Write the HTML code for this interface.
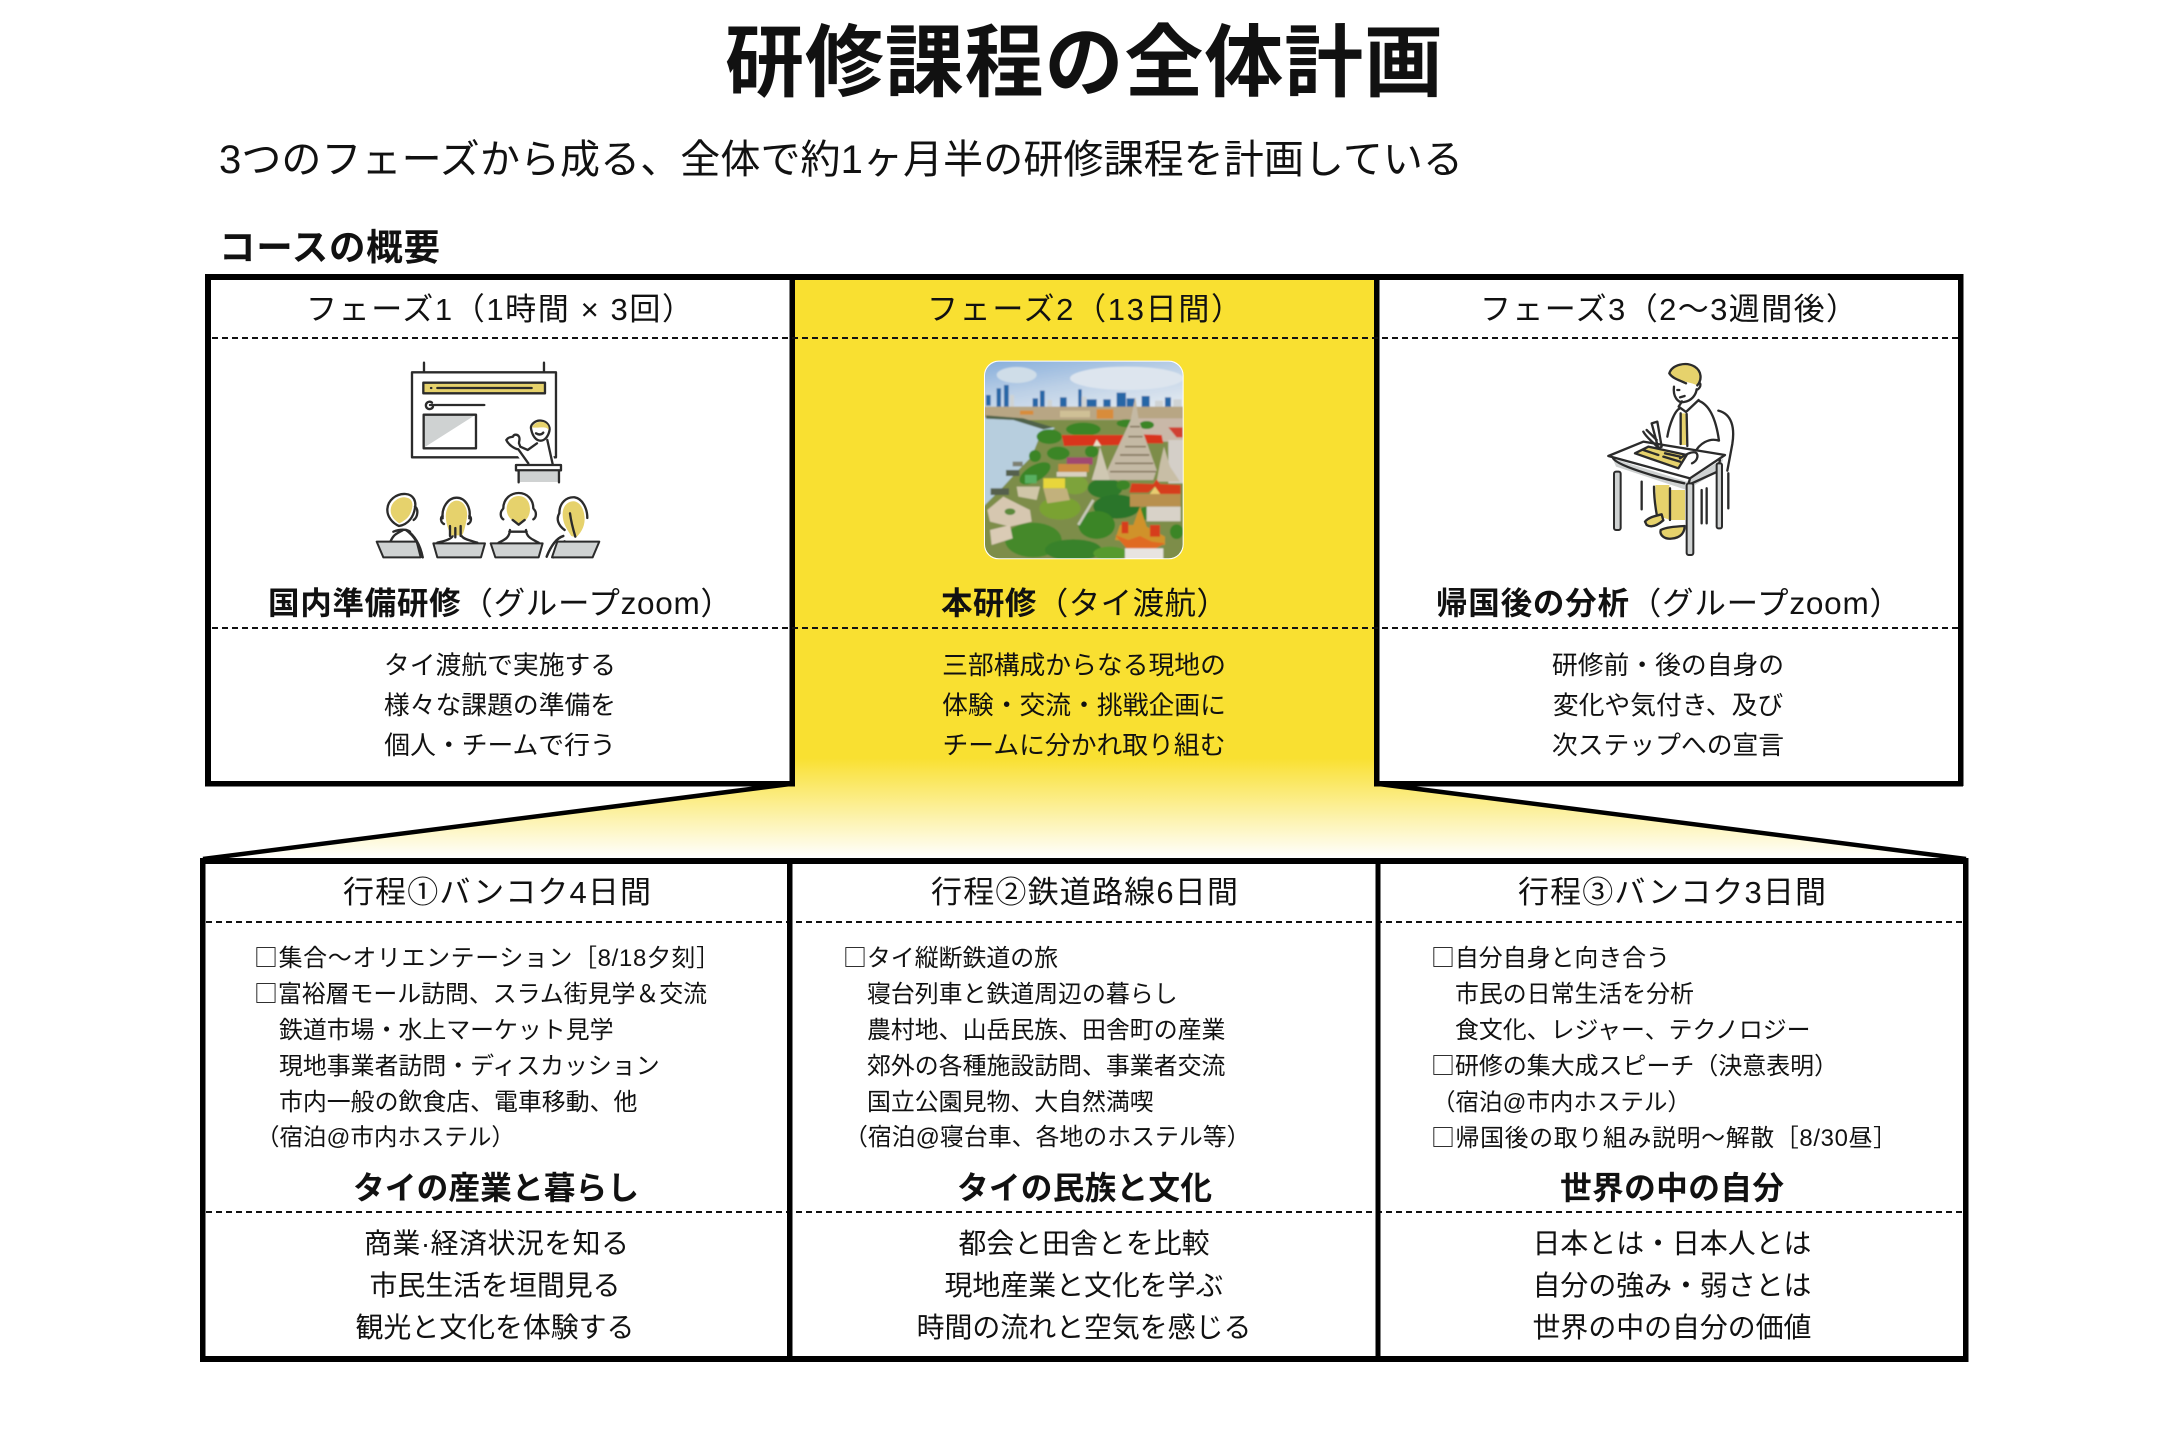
<!DOCTYPE html>
<html lang="ja"><head><meta charset="utf-8"><title>研修課程の全体計画</title>
<style>
html,body{margin:0;padding:0;background:#fff}
svg{display:block}
text{font-family:"Liberation Sans","Noto Sans CJK JP",sans-serif;fill:#111}
.q{font-family:"Noto Sans CJK JP",sans-serif}
.b{font-weight:700}
.h{font-size:31px}
.s{font-size:31.5px}
.d{font-size:25.8px;text-anchor:middle}
.l{font-size:23.9px}
.m{font-size:27.9px;text-anchor:middle}
.ill{fill:none;stroke:#2b2b2b;stroke-width:7;stroke-linecap:round;stroke-linejoin:round}
</style></head><body>
<svg xmlns="http://www.w3.org/2000/svg" width="2168" height="1446" viewBox="0 0 2168 1446">
<defs>
<linearGradient id="fade" gradientUnits="userSpaceOnUse" x1="0" y1="758" x2="0" y2="858">
<stop offset="0" stop-color="#F9E031"/><stop offset="1" stop-color="#FFFFFF"/></linearGradient>
<linearGradient id="sky" x1="0" y1="0" x2="0.6" y2="1"><stop offset="0" stop-color="#7fa9da"/><stop offset=".55" stop-color="#bcd0e6"/><stop offset="1" stop-color="#dfe7ef"/></linearGradient>
<clipPath id="pc"><rect x="75" y="65" width="593" height="590" rx="42"/></clipPath>
<filter id="bl" x="-5%" y="-5%" width="110%" height="110%"><feGaussianBlur stdDeviation="2.2"/></filter>
</defs>
<rect width="2168" height="1446" fill="#fff"/>

<!-- yellow column & funnel -->
<rect x="792" y="277" width="585" height="482" fill="#F9E031"/>
<polygon points="792,758 1377,758 1377,784 1965,860 203,860 792,784" fill="url(#fade)"/>

<!-- title -->
<text x="725" y="90" class="b" font-size="79" textLength="718">研修課程の全体計画</text>
<text x="219" y="173" font-size="40" textLength="1244">3つのフェーズから成る、全体で約1ヶ月半の研修課程を計画している</text>
<text x="219" y="260" class="b" font-size="36.5" textLength="221">コースの概要</text>

<!-- upper box -->
<g fill="#000">
<rect x="205" y="274" width="6" height="512"/>
<rect x="205" y="274" width="1758" height="6"/>
<rect x="1958" y="274" width="5.5" height="512"/>
<rect x="789.5" y="274" width="5.5" height="512"/>
<rect x="1374" y="274" width="5.5" height="512"/>
<rect x="205" y="781" width="590" height="5.5"/>
<rect x="1374" y="781" width="589" height="5.5"/>
</g>
<polygon points="795,780 1374,780 1374,790 795,790" fill="url(#fade)"/>
<g stroke="#111" stroke-width="2" stroke-dasharray="6 4" fill="none">
<path d="M212 338H1958"/><path d="M212 628H1958"/>
<path d="M206 922H1964"/><path d="M206 1212H1964"/>
</g>

<!-- funnel edges -->
<path d="M790 784L203 859" stroke="#000" stroke-width="4.5" fill="none"/>
<path d="M1379 784L1966 859" stroke="#000" stroke-width="4.5" fill="none"/>

<!-- lower box -->
<g fill="#000">
<rect x="200" y="858" width="1768" height="6"/>
<rect x="200" y="1356" width="1768" height="6"/>
<rect x="200" y="858" width="5.5" height="504"/>
<rect x="1963" y="858" width="5.5" height="504"/>
<rect x="787" y="858" width="5.5" height="504"/>
<rect x="1375.5" y="858" width="5" height="504"/>
</g>

<!-- phase headers -->
<text x="306" y="320" class="h" textLength="387">フェーズ1（1時間 × 3回）</text>
<text x="927" y="320" class="h" textLength="315">フェーズ2（13日間）</text>
<text x="1480" y="320" class="h" textLength="377">フェーズ3（2〜3週間後）</text>

<!-- section titles -->
<text x="268" y="614" class="s" textLength="464"><tspan class="b">国内準備研修</tspan>（グループzoom）</text>
<text x="941" y="614" class="s" textLength="287"><tspan class="b">本研修</tspan>（タイ渡航）</text>
<text x="1436" y="614" class="s" textLength="465"><tspan class="b">帰国後の分析</tspan>（グループzoom）</text>

<!-- descriptions -->
<text x="500" y="674" class="d">タイ渡航で実施する</text>
<text x="500" y="714" class="d">様々な課題の準備を</text>
<text x="500" y="754" class="d">個人・チームで行う</text>
<text x="1084" y="674" class="d">三部構成からなる現地の</text>
<text x="1084" y="714" class="d">体験・交流・挑戦企画に</text>
<text x="1084" y="754" class="d">チームに分かれ取り組む</text>
<text x="1668" y="674" class="d">研修前・後の自身の</text>
<text x="1668" y="714" class="d">変化や気付き、及び</text>
<text x="1668" y="754" class="d">次ステップへの宣言</text>

<!-- lower headers -->
<text x="343" y="903" font-size="31" textLength="308">行程①バンコク4日間</text>
<text x="931" y="903" font-size="31" textLength="307">行程②鉄道路線6日間</text>
<text x="1518" y="903" font-size="31" textLength="308">行程③バンコク3日間</text>

<!-- lists col 1 -->
<text x="254" y="966" class="l" textLength="466"><tspan class="q">□</tspan>集合〜オリエンテーション［8/18夕刻］</text>
<text x="254" y="1002" class="l" textLength="453"><tspan class="q">□</tspan>富裕層モール訪問、スラム街見学＆交流</text>
<text x="279" y="1038" class="l">鉄道市場・水上マーケット見学</text>
<text x="279" y="1074" class="l">現地事業者訪問・ディスカッション</text>
<text x="279" y="1110" class="l">市内一般の飲食店、電車移動、他</text>
<text x="256" y="1145" class="l" font-size="23.5" style="font-size:23.5px">（宿泊@市内ホステル）</text>

<!-- lists col 2 -->
<text x="843" y="966" class="l"><tspan class="q">□</tspan>タイ縦断鉄道の旅</text>
<text x="867" y="1002" class="l">寝台列車と鉄道周辺の暮らし</text>
<text x="867" y="1038" class="l">農村地、山岳民族、田舎町の産業</text>
<text x="867" y="1074" class="l">郊外の各種施設訪問、事業者交流</text>
<text x="867" y="1110" class="l">国立公園見物、大自然満喫</text>
<text x="844" y="1145" class="l">（宿泊@寝台車、各地のホステル等）</text>

<!-- lists col 3 -->
<text x="1431" y="966" class="l"><tspan class="q">□</tspan>自分自身と向き合う</text>
<text x="1455" y="1002" class="l">市民の日常生活を分析</text>
<text x="1455" y="1038" class="l">食文化、レジャー、テクノロジー</text>
<text x="1431" y="1074" class="l" textLength="407"><tspan class="q">□</tspan>研修の集大成スピーチ（決意表明）</text>
<text x="1432" y="1110" class="l" style="font-size:23.5px">（宿泊@市内ホステル）</text>
<text x="1431" y="1146" class="l" textLength="466"><tspan class="q">□</tspan>帰国後の取り組み説明〜解散［8/30昼］</text>

<!-- bold lines -->
<text x="353" y="1199" class="b" font-size="31.7" textLength="286">タイの産業と暮らし</text>
<text x="957" y="1199" class="b" font-size="31.7" textLength="255">タイの民族と文化</text>
<text x="1560" y="1199" class="b" font-size="31.7" textLength="224">世界の中の自分</text>

<!-- summaries -->
<text x="364" y="1253" font-size="27.9" textLength="265">商業·経済状況を知る</text>
<text x="495" y="1295" class="m">市民生活を垣間見る</text>
<text x="495" y="1337" class="m">観光と文化を体験する</text>
<text x="1084" y="1253" class="m">都会と田舎とを比較</text>
<text x="1084" y="1295" class="m">現地産業と文化を学ぶ</text>
<text x="1084" y="1337" class="m">時間の流れと空気を感じる</text>
<text x="1672" y="1253" class="m">日本とは・日本人とは</text>
<text x="1672" y="1295" class="m">自分の強み・弱さとは</text>
<text x="1672" y="1337" class="m">世界の中の自分の価値</text>

<!-- classroom illustration -->
<g transform="translate(350,350) scale(.3333)">
<g class="ill">
<path d="M222 38V67M582 38V67"/>
<rect x="186" y="67" width="432" height="255" fill="#fff"/>
<rect x="220" y="98" width="365" height="32" fill="#E6D26C"/>
<path d="M262 114H545M243 114h1"/>
<path d="M246 158a11 11 0 1 0 3 12"/>
<path d="M240 165H403"/>
</g>
<polygon points="222,195 376,195 222,293" fill="#CFD2D2"/>
<rect x="221" y="194" width="157" height="101" class="ill"/>
<path d="M520 340L490 300 530 300 560 280 596 270 618 345Z" fill="#fff"/>
<g class="ill">
<path d="M535 340L505 298c-12 -2 -30 -14 -36 -28 6 -10 14 -8 20 -10 2 -8 14 -8 18 0 4 6 0 12 0 20l4 10 22 10 28 -20M592 270L608 342"/>
<path d="M544 240c-6 -16 12 -30 30 -28 18 2 28 18 24 32 -4 16 -14 28 -26 28 -14 0 -24 -14 -28 -32z" fill="#fff"/>
</g>
<path d="M546 232c4 -10 18 -20 34 -16 12 4 18 14 16 24 -8 -14 -30 -4 -50 -8z" fill="#E6D26C"/>
<path d="M558 250q14 8 22 -2" class="ill" stroke-width="4"/>
<rect x="498" y="345" width="135" height="16" fill="#fff" class="ill"/>
<rect x="508" y="364" width="116" height="32" fill="#CFD2D2"/>
<path d="M506 362V397M627 362V397" class="ill"/>
<!-- bodies -->
<g class="ill">
<path d="M122 573c8 -16 12 -20 36 -32M130 545c20 -8 40 -8 50 0M170 540c20 14 40 40 48 82"/>
<path d="M262 578c20 -4 42 -10 46 -20M335 558c6 10 28 14 47 20"/>
<path d="M446 578c15 -8 32 -12 34 -38M528 540c2 24 20 28 38 38M478 545h52"/>
<path d="M590 620c12 -30 28 -55 50 -62M610 622c10 -26 20 -40 34 -48"/>
</g>
<!-- chairs -->
<g fill="#CFD2D2" stroke="#2b2b2b" stroke-width="6" stroke-linejoin="round">
<path d="M80 575H200L212 622H100Z"/>
<path d="M250 580H405L393 622H262Z"/>
<path d="M422 580H578L566 622H436Z"/>
<path d="M622 575H748L728 622H606Z"/>
</g>
<path d="M168 540c20 14 40 40 50 82M590 620c12 -30 28 -55 50 -62" class="ill"/>
<!-- heads -->
<g class="ill" stroke-width="6">
<path d="M112 480c0 -30 28 -50 55 -48 24 2 32 22 28 42 -2 12 -6 24 -14 34 -8 10 -20 18 -34 20 -20 -8 -35 -28 -35 -48z" fill="#fff"/>
<path d="M278 505c-4 -32 16 -62 42 -62 26 0 44 30 38 62" fill="#fff"/>
<path d="M460 475c0 -28 22 -46 46 -46 26 0 44 20 44 46" fill="#fff"/>
<path d="M628 490c0 -32 22 -50 46 -48 24 4 38 34 38 62" fill="#fff"/>
<path d="M195 470c10 6 10 30 -4 40M278 498c-8 4 -6 20 4 24M358 498c8 4 6 20 -4 24M458 478c-8 8 -8 24 2 30M552 478c8 8 8 24 -2 30M628 490c-10 16 -4 36 16 50"/>
</g>
<g fill="#E6D26C">
<path d="M122 482c0 -24 22 -42 44 -40 20 2 24 18 20 34 -4 20 -16 34 -38 44 -14 -8 -26 -22 -26 -38z"/>
<path d="M288 508c-4 -30 12 -56 32 -56 22 0 36 26 30 56 -4 20 -8 40 -14 48h-32c-8 -14 -14 -30 -16 -48z"/>
<path d="M470 478c0 -24 16 -40 36 -40 22 0 34 18 34 40 0 16 -8 30 -18 36l-16 10 -14 -10c-12 -6 -22 -20 -22 -36z"/>
<path d="M638 492c0 -26 18 -40 36 -38 20 4 30 30 30 54 0 24 -14 44 -26 54l-14 -4c-12 -20 -26 -36 -26 -66z"/>
</g>
<path d="M300 528v30M316 534v28M332 528v30M488 510l18 14 18 -14M660 490c4 30 10 50 16 70" class="ill" stroke-width="4"/>
</g>

<!-- photo -->
<g transform="translate(960,340) scale(.3333)">
<rect x="72" y="62" width="599" height="596" rx="44" fill="#fff"/>
<g clip-path="url(#pc)"><g filter="url(#bl)">
<rect x="60" y="50" width="620" height="170" fill="url(#sky)"/>
<ellipse cx="170" cy="105" rx="60" ry="24" fill="#cfdde8"/>
<ellipse cx="500" cy="115" rx="170" ry="35" fill="#dde5ee"/>
<g fill="#2666a6">
<rect x="110" y="145" width="13" height="62"/><rect x="132" y="135" width="14" height="72"/><rect x="240" y="152" width="14" height="54"/><rect x="355" y="148" width="10" height="56"/><rect x="470" y="158" width="28" height="46"/><rect x="500" y="175" width="24" height="30"/><rect x="380" y="178" width="30" height="26"/><rect x="545" y="168" width="24" height="36"/><rect x="615" y="172" width="18" height="32"/><rect x="300" y="172" width="20" height="32"/><rect x="78" y="165" width="14" height="32"/><rect x="218" y="175" width="16" height="30"/><rect x="430" y="178" width="22" height="26"/>
</g>
<g fill="#cfd3d4"><rect x="150" y="165" width="12" height="40"/><rect x="262" y="180" width="14" height="25"/><rect x="365" y="170" width="14" height="35"/><rect x="585" y="182" width="24" height="24"/><rect x="640" y="178" width="25" height="28"/></g>
<rect x="60" y="200" width="620" height="45" fill="#b8a684"/>
<g fill="#d88c3a"><rect x="410" y="208" width="50" height="28"/><rect x="180" y="212" width="40" height="12"/></g>
<rect x="300" y="212" width="90" height="20" fill="#cfc096"/>
<rect x="60" y="240" width="620" height="430" fill="#7d8d48"/>
<polygon points="60,232 160,236 285,264 235,300 215,350 180,385 130,440 60,510" fill="#b7cede"/>
<polygon points="78,226 190,235 280,262 250,268 160,240 78,236" fill="#4f6248"/>
<rect x="530" y="235" width="140" height="70" fill="#c9b8a8"/>
<polygon points="625,262 668,262 668,292 650,292" fill="#d04030"/>
<rect x="625" y="300" width="45" height="130" fill="#d4cfc8"/>
<!-- greens -->
<g fill="#3a8528">
<ellipse cx="370" cy="268" rx="52" ry="20"/><ellipse cx="268" cy="290" rx="38" ry="22"/><ellipse cx="295" cy="340" rx="34" ry="20"/><ellipse cx="395" cy="335" rx="20" ry="18"/><ellipse cx="225" cy="348" rx="18" ry="18"/><ellipse cx="500" cy="250" rx="30" ry="12"/><ellipse cx="560" cy="255" rx="22" ry="12"/>
<ellipse cx="225" cy="400" rx="52" ry="24" transform="rotate(-30 225 400)"/>
<ellipse cx="345" cy="435" rx="40" ry="28" fill="#7da33a"/>
<ellipse cx="435" cy="445" rx="52" ry="30" fill="#2f7a2c"/><ellipse cx="490" cy="435" rx="20" ry="15"/><ellipse cx="470" cy="500" rx="70" ry="36" fill="#2a7429"/><ellipse cx="300" cy="505" rx="62" ry="34" fill="#7aa232"/><ellipse cx="410" cy="555" rx="55" ry="42"/><ellipse cx="220" cy="600" rx="85" ry="52" fill="#44892c"/><ellipse cx="340" cy="630" rx="85" ry="32" fill="#38822a"/><ellipse cx="450" cy="640" rx="50" ry="20" fill="#569a2e"/><ellipse cx="560" cy="520" rx="22" ry="20"/><ellipse cx="650" cy="575" rx="20" ry="22"/>
</g>
<!-- road -->
<path d="M400 480L355 555" stroke="#c8c8b8" stroke-width="8" fill="none"/>
<!-- red roofs -->
<polygon points="305,285 500,285 490,315 312,318" fill="#d9351a"/>
<polygon points="400,318 410,298 424,318" fill="#e8e0c8"/>
<polygon points="550,283 605,285 610,310 548,310" fill="#d9351a"/>
<rect x="320" y="352" width="78" height="22" fill="#a04a70"/>
<rect x="295" y="372" width="92" height="24" fill="#cc8c40"/>
<rect x="290" y="396" width="90" height="14" fill="#d8d0c0"/>
<rect x="250" y="415" width="65" height="30" fill="#e8d63a"/>
<rect x="195" y="405" width="35" height="25" fill="#58b060"/>
<polygon points="250,445 320,445 330,480 262,490" fill="#c2b17c"/>
<!-- pagoda -->
<polygon points="526,170 536,240 590,390 580,420 450,420 440,395 512,240" fill="#c4b9a4"/>
<g stroke="#85775e" stroke-width="5" fill="none"><path d="M510 260H540M505 290H548M495 320H558M480 345H568M465 370H580M450 395H588"/></g>
<polygon points="420,320 435,370 450,420 395,420 410,370" fill="#cfc7b2"/>
<polygon points="612,320 630,380 660,425 590,425 600,370" fill="#c8bea6"/>
<!-- right temple -->
<polygon points="515,430 580,432 590,418 600,432 662,435 662,462 600,462 585,440 565,458 508,458" fill="#d63c1a"/>
<polygon points="585,440 605,468 565,468" fill="#e8cc70"/>
<rect x="510" y="462" width="152" height="38" fill="#b8904e"/>
<rect x="560" y="500" width="102" height="44" fill="#d8d2c8"/>
<!-- bottom temple -->
<polygon points="540,500 560,560 615,590 615,615 465,600 480,555 520,555" fill="#d0922c"/>
<polygon points="485,545 505,545 505,580 485,580" fill="#d63c1a"/>
<polygon points="570,555 600,555 600,590 570,590" fill="#d63c1a"/>
<polygon points="465,585 505,600 540,588 575,605 615,610 575,632 500,625" fill="#e06a20"/>
<rect x="495" y="625" width="115" height="40" fill="#e8e4e0"/>
<!-- left white buildings -->
<polygon points="82,510 130,470 210,510 215,545 150,560 90,545" fill="#d6c7b0"/>
<polygon points="90,570 150,555 158,595 95,615" fill="#dacbb5"/>
<polygon points="170,440 240,440 230,480 175,470" fill="#d0c6a8"/>
<ellipse cx="150" cy="515" rx="16" ry="10" fill="#5c8a3a"/>
<!-- boats -->
<rect x="138" y="390" width="40" height="18" fill="#55604e"/><rect x="92" y="445" width="55" height="20" fill="#55604e"/><rect x="158" y="365" width="30" height="14" fill="#7d8072"/>
</g></g>
</g>

<!-- student illustration -->
<g transform="translate(1580,340) scale(.3333)">
<path d="M226 435H268L270 540 228 525Z" fill="#E6D26C"/>
<path d="M272 450H315V540L272 540Z" fill="#E6D26C"/>
<g class="ill">
<path d="M415 212c40 10 50 50 42 100l-15 80M445 400V505"/>
<path d="M365 450V550M380 445V550"/>
<path d="M185 425V508"/>
<path d="M270 445V540M222 440c0 30 4 60 8 82"/>
<path d="M195 545c10 -12 25 -16 50 -22l5 18c-14 12 -34 24 -50 14z" fill="#E6D26C"/>
<path d="M242 570c15 -8 40 -10 72 -12 0 18 -10 36 -40 38 -20 2 -36 -10 -32 -26z" fill="#E6D26C"/>
<path d="M300 205c-16 6 -32 50 -38 85M355 182c40 14 55 70 62 120 -30 -10 -60 10 -72 36"/>
<path d="M296 200l22 16 38 -36M296 200l10 -16"/>
<path d="M282 140c-4 30 12 50 30 46 24 -4 36 -22 38 -38M350 130c14 -8 16 12 0 20"/>
</g>
<polygon points="302,220 320,220 318,315 300,315" fill="#E6D26C"/>
<path d="M302 220V312M320 222L322 318" class="ill" stroke-width="4"/>
<path d="M268 100c8 -26 50 -36 76 -20 22 14 22 40 8 56 -20 -10 -70 -14 -84 -36z" fill="#E6D26C"/>
<path d="M268 100c8 -26 50 -36 76 -20 22 14 22 40 8 56M268 100c10 16 30 20 50 30" class="ill"/>
<path d="M292 150h6M300 172l14 -4" class="ill"/>
<!-- desk -->
<polygon points="98,355 320,425 430,355 420,390 320,450 108,380" fill="#CFD2D2"/>
<polygon points="85,348 190,305 435,345 330,415" fill="#fff"/>
<path d="M85 348L190 305 435 345 330 415ZM98 352c4 22 130 60 215 78M330 415L325 435M420 360L412 395 325 435" class="ill"/>
<rect x="102" y="395" width="20" height="175" rx="6" fill="#CFD2D2" stroke="#2b2b2b" stroke-width="6"/>
<rect x="320" y="430" width="20" height="215" rx="6" fill="#CFD2D2" stroke="#2b2b2b" stroke-width="6"/>
<rect x="410" y="370" width="16" height="195" rx="5" fill="#CFD2D2" stroke="#2b2b2b" stroke-width="6"/>
<!-- notebook -->
<polygon points="165,340 205,320 320,345 292,385" fill="#E6D26C"/>
<path d="M165 340L205 320 320 345 295 385ZM235 345L190 330M250 350L300 365M255 340L300 350" class="ill" stroke-width="5"/>
<path d="M235 325L215 250 232 245 245 320ZM190 275c10 20 30 30 45 50M200 270l30 30" class="ill" fill="#fff" stroke-width="5"/>
<path d="M300 355c10 -8 40 -25 50 -15 6 10 0 24 -14 30" class="ill" fill="#fff" stroke-width="5"/>
</g>
</svg>
</body></html>
